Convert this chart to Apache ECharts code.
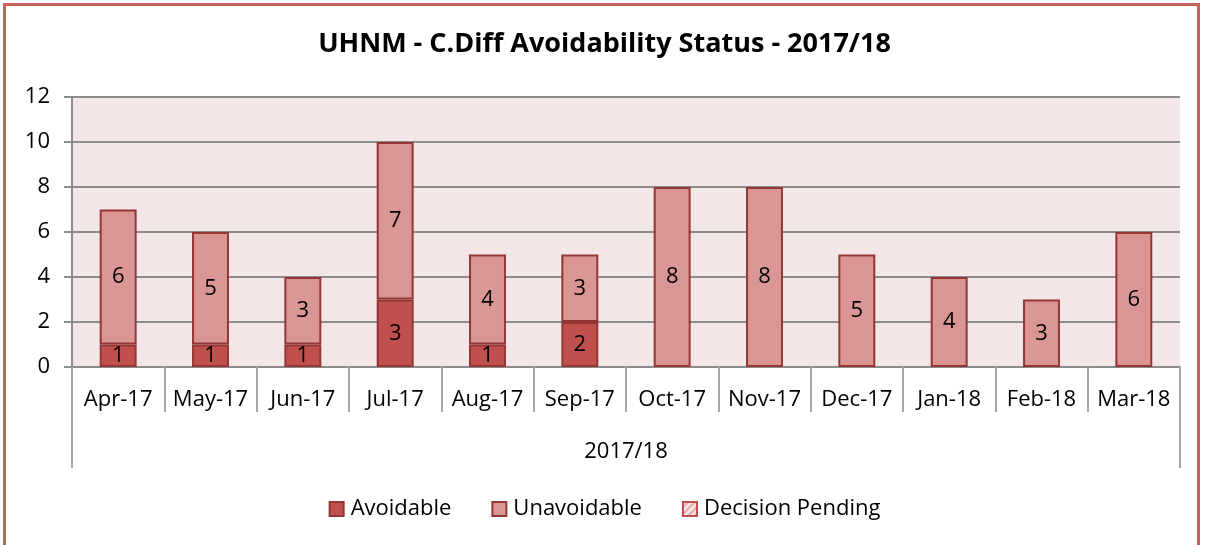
<!DOCTYPE html>
<html><head><meta charset="utf-8">
<script src="https://cdn.jsdelivr.net/npm/echarts@6/dist/echarts.min.js"></script>
<style>
html,body{margin:0;padding:0;background:#fff;overflow:hidden;}
#chart{position:absolute;left:0;top:0;width:1209px;height:545px;}
#frame{position:absolute;left:3px;top:3px;width:1197px;height:600px;border:3px solid #C9605C;pointer-events:none;box-sizing:border-box;}
</style></head>
<body>
<div id="chart"></div>
<div id="frame"></div>
<script>
const titleText = 'UHNM - C.Diff Avoidability Status - 2017/18';
const months = ['Apr-17','May-17','Jun-17','Jul-17','Aug-17','Sep-17','Oct-17','Nov-17','Dec-17','Jan-18','Feb-18','Mar-18'];
const groupLabel = ['2017/18'];
const avoidable = [1,1,1,3,1,2,0,0,0,0,0,0];
const unavoidable = [6,5,3,7,4,3,8,8,5,4,3,6];
const pending = [0,0,0,0,0,0,0,0,0,0,0,0];
const yTicks = {min:0, max:12, interval:2};

const FONT = '"Open Sans", "Noto Sans", sans-serif';
const FS = 22;
const toDraw = a => a.map(v => v === 0 ? null : v);
const labelCfg = {
  show:true, position:'inside', color:'#000', fontSize:FS, fontFamily:FONT,
  formatter: p => (p.value ? String(p.value) : '')
};

const chart = echarts.init(document.getElementById('chart'), null, {renderer:'canvas'});
chart.setOption({
  animation:false,
  title:{text:titleText, left:'center', top:26,
    textStyle:{fontSize:27, fontWeight:'bold', color:'#000', fontFamily:FONT}},
  legend:{bottom:20, left:'center', icon:'rect', itemWidth:14, itemHeight:14, itemGap:40,
    textStyle:{fontSize:FS, color:'#000', fontFamily:FONT, padding:[0,0,0,2]},
    data:['Avoidable','Unavoidable','Decision Pending']},
  grid:{left:72, right:29, top:97, bottom:178, show:true, backgroundColor:'#F2E6E6', borderWidth:0},
  xAxis:[{
    type:'category', data:months, position:'bottom',
    axisLine:{lineStyle:{color:'#8c8c8c', width:2}},
    axisTick:{show:true, interval:0, length:45, lineStyle:{color:'#a6a6a6', width:2}},
    axisLabel:{interval:0, margin:22, fontSize:FS, color:'#000', fontFamily:FONT},
    splitLine:{show:false}
  },{
    type:'category', data:groupLabel, position:'bottom',
    axisLine:{show:false},
    axisTick:{show:true, length:101, lineStyle:{color:'#a6a6a6', width:2}},
    axisLabel:{margin:74, fontSize:FS, color:'#000', fontFamily:FONT},
    splitLine:{show:false}
  }],
  yAxis:{
    type:'value', min:yTicks.min, max:yTicks.max, interval:yTicks.interval,
    axisLine:{show:true, lineStyle:{color:'#8c8c8c', width:2}},
    axisTick:{show:true, length:8, lineStyle:{color:'#8c8c8c', width:2}},
    axisLabel:{margin:22, fontSize:FS, color:'#000', fontFamily:FONT},
    splitLine:{lineStyle:{color:'#8c8c8c', width:2}}
  },
  series:[
    {name:'Avoidable', type:'bar', stack:'s', xAxisIndex:0, barWidth:'40%', data:toDraw(avoidable),
      itemStyle:{color:'#C0504D', borderColor:'#943634', borderWidth:2}, label:labelCfg},
    {name:'Unavoidable', type:'bar', stack:'s', xAxisIndex:0, barWidth:'40%', data:toDraw(unavoidable),
      itemStyle:{color:'#D99694', borderColor:'#943634', borderWidth:2}, label:labelCfg},
    {name:'Decision Pending', type:'bar', stack:'s', xAxisIndex:0, barWidth:'40%', data:toDraw(pending),
      itemStyle:{color:'#E6B9B8', borderColor:'#C0504D', borderWidth:1.5,
        decal:{symbol:'rect', color:'rgba(255,255,255,0.8)', dashArrayX:[1,0], dashArrayY:[2,3], rotation:-Math.PI/4}},
      label:labelCfg}
  ]
});
</script>
</body></html>
